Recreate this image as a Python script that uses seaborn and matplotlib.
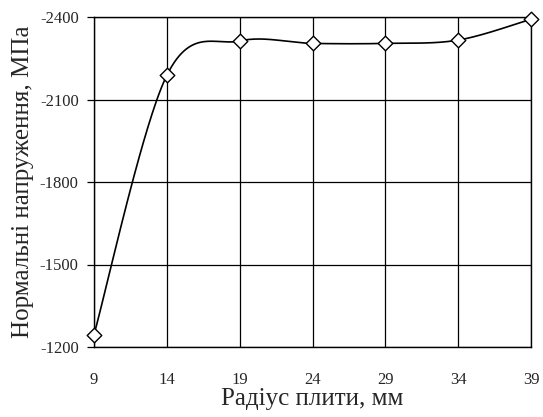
import numpy as np
import pandas as pd
import matplotlib
matplotlib.use("Agg")
import matplotlib.pyplot as plt
import seaborn as sns

radius = [9, 14, 19, 24, 29, 34, 39]
stress = [-1245, -2188, -2313, -2304, -2304, -2316, -2392]
x_ticks = [9, 14, 19, 24, 29, 34, 39]
y_ticks = [-1200, -1500, -1800, -2100, -2400]

sns.set_style("white")
plt.rcParams['font.family'] = ['Liberation Serif', 'DejaVu Serif']

fig = plt.figure(figsize=(5.43, 4.17), dpi=100)
ax = fig.add_axes([94/543, 1-347/417, (531-94)/543, (347-17)/417])
ax.set_xlim(9, 39)
ax.set_ylim(-1200, -2400)

# Excel-like smoothed line (uniform Catmull-Rom Bezier in display space)
pts = ax.transData.transform(np.column_stack([radius, stress]).astype(float))
n = len(pts)
out = []
for i in range(n - 1):
    p0 = pts[max(i-1, 0)]; p1 = pts[i]; p2 = pts[i+1]; p3 = pts[min(i+2, n-1)]
    c1 = p1 + (p2 - p0) / 6
    c2 = p2 - (p3 - p1) / 6
    t = np.linspace(0, 1, 60)[:, None]
    b = (1-t)**3*p1 + 3*(1-t)**2*t*c1 + 3*(1-t)*t**2*c2 + t**3*p2
    out.append(b)
out = np.vstack(out)
curve_d = ax.transData.inverted().transform(out)
curve = pd.DataFrame({"x": curve_d[:, 0], "y": curve_d[:, 1]})
sns.lineplot(data=curve, x="x", y="y", sort=False, estimator=None, color="black",
             lw=1.2, ax=ax, zorder=3)

df = pd.DataFrame({"r": radius, "s": stress})
sns.scatterplot(data=df, x="r", y="s", marker="D", s=55, facecolor="white",
                edgecolor="black", linewidth=1.0, ax=ax, zorder=4, clip_on=False)

ax.set_xlim(9, 39)
ax.set_ylim(-1200, -2400)
ax.set_xticks(x_ticks)
ax.set_yticks(y_ticks)
ax.set_xticklabels([str(v) for v in x_ticks], fontsize=12)
ax.set_yticklabels([str(v) for v in y_ticks], fontsize=12)
ax.grid(True, color="black", lw=0.9)
for sp in ax.spines.values():
    sp.set_color("black")
    sp.set_linewidth(1.0)
ax.tick_params(axis="y", length=5, width=0.9, color="black", direction="out", left=True, pad=6)
ax.tick_params(axis="x", length=0, pad=18)
ax.set_xlabel("Радіус плити, мм", fontsize=18, labelpad=0)
ax.set_ylabel("Нормальні напруження, МПа", fontsize=18, labelpad=4)

fig.savefig("out.png", dpi=100)
